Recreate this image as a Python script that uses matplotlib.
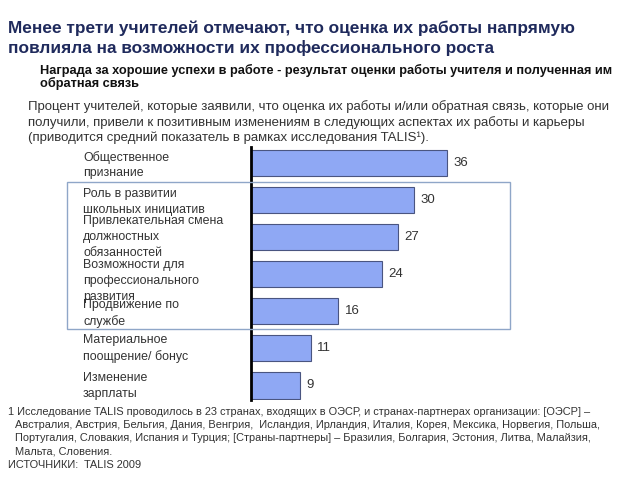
import matplotlib
matplotlib.use("Agg")
import matplotlib.pyplot as plt
from matplotlib.patches import Rectangle

plt.rcParams['font.family'] = ['Liberation Sans', 'DejaVu Sans']

categories = [
    "Общественное\nпризнание",
    "Роль в развитии\nшкольных инициатив",
    "Привлекательная смена\nдолжностных\nобязанностей",
    "Возможности для\nпрофессионального\nразвития",
    "Продвижение по\nслужбе",
    "Материальное\nпоощрение/ бонус",
    "Изменение\nзарплаты",
]
values = [36, 30, 27, 24, 16, 11, 9]

title_lines = ["Менее трети учителей отмечают, что оценка их работы напрямую",
               "повлияла на возможности их профессионального роста"]
subtitle_lines = ["Награда за хорошие успехи в работе - результат оценки работы учителя и полученная им",
                  "обратная связь"]
desc_lines = ["Процент учителей, которые заявили, что оценка их работы и/или обратная связь, которые они",
              "получили, привели к позитивным изменениям в следующих аспектах их работы и карьеры",
              "(приводится средний показатель в рамках исследования TALIS¹)."]
foot_lines = ["1 Исследование TALIS проводилось в 23 странах, входящих в ОЭСР, и странах-партнерах организации: [ОЭСР] –",
              "Австралия, Австрия, Бельгия, Дания, Венгрия,  Исландия, Ирландия, Италия, Корея, Мексика, Норвегия, Польша,",
              "Португалия, Словакия, Испания и Турция; [Страны-партнеры] – Бразилия, Болгария, Эстония, Литва, Малайзия,",
              "Мальта, Словения."]
source_text = "ИСТОЧНИКИ:  TALIS 2009"

W, H = 640, 480
fig = plt.figure(figsize=(6.4, 4.8), dpi=100)

def fx(x): return x / W
def fy(y): return 1 - y / H

# axes
ax_left, ax_top, ax_bottom = 251, 147, 400
xmax = 40
px_per_unit = 5.44
ax = fig.add_axes([fx(ax_left), fy(ax_bottom), xmax * px_per_unit / W, (ax_bottom - ax_top) / H])
ypos = list(range(len(values)))
ax.barh(ypos, values, height=0.72, color='#8FA8F4', edgecolor='#4A5580', linewidth=0.8)
ax.set_ylim(len(values) - 1 + 0.4, -0.43)
ax.set_xlim(0, xmax)
for s in ['top', 'right', 'bottom']:
    ax.spines[s].set_visible(False)
ax.spines['left'].set_linewidth(2)
ax.spines['left'].set_color('black')
ax.set_xticks([])
ax.set_yticks([])
ax.patch.set_alpha(0)
for y, v in zip(ypos, values):
    ax.text(v + 1.2, y, str(v), va='center', ha='left', fontsize=9.5, color='#333333')

# category labels (small vertical nudges in points)
nudges = [-1.5, -1.5, 0, -5, -1.5, 0, -0.5]
for y, lab, nd in zip(ypos, categories, nudges):
    ax.annotate(lab, xy=(0, y), xycoords=('axes fraction', 'data'),
                xytext=(fx(83), nd), textcoords=('figure fraction', 'offset points'),
                ha='left', va='center', fontsize=8.9, color='#333333', linespacing=1.42)

# box
fig.patches.append(Rectangle((fx(67), fy(329)), fx(510) - fx(67), fy(182) - fy(329),
                             transform=fig.transFigure, fill=False,
                             edgecolor='#8FA6C8', linewidth=1.0))

for i, t in enumerate(title_lines):
    fig.text(fx(8), fy(28 + 20 * i), t, fontsize=12.4, fontweight='bold',
             color='#1F2A5C', va='center', ha='left')
for i, t in enumerate(subtitle_lines):
    fig.text(fx(40), fy(70.5 + 13 * i), t, fontsize=9.2, fontweight='bold',
             color='#111111', va='center', ha='left')
for i, t in enumerate(desc_lines):
    fig.text(fx(28), fy(107 + 15.5 * i), t, fontsize=9.5, color='#333333', va='center', ha='left')
for i, t in enumerate(foot_lines):
    fig.text(fx(8 if i == 0 else 15), fy(412 + 13.2 * i), t, fontsize=7.9,
             color='#333333', va='center', ha='left')
fig.text(fx(8), fy(465), source_text, fontsize=7.9, color='#333333', va='center', ha='left')

fig.savefig('out.png', dpi=100, facecolor='white')
